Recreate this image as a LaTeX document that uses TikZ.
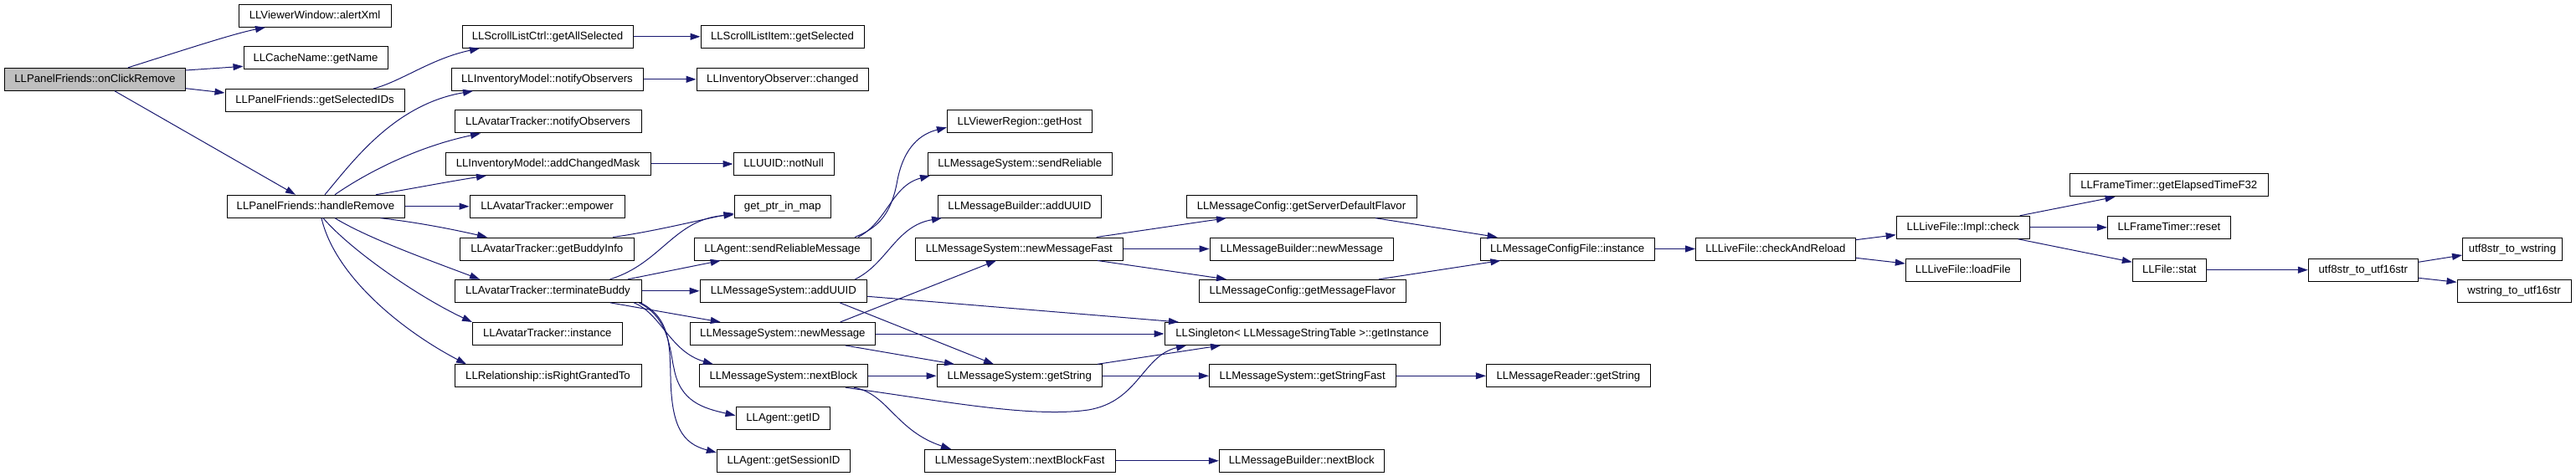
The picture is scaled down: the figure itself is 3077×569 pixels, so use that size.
\documentclass[tikz,border=0pt]{standalone}
\usepackage{fontspec}
\setmainfont{Liberation Sans}
\usetikzlibrary{arrows.meta}
\definecolor{edgeblue}{HTML}{191970}
\definecolor{rootgray}{HTML}{BFBFBF}
\begin{document}
\begin{tikzpicture}[x=1pt,y=-1pt,
  fn/.style={draw=black, line width=1pt, inner sep=0pt, minimum height=27pt,
    text height=9.5pt, text depth=1.8pt, fill=white,
    font=\fontsize{13.2}{15}\selectfont},
  call/.style={draw=edgeblue, line width=1pt, -{Triangle[length=12pt,width=8pt]}}
]
\useasboundingbox[fill=white] (0,0) rectangle (3077,569);
% column 1
\node[fn, fill=rootgray, minimum width=216pt] (oc) at (113.5,94.8) {LLPanelFriends::onClickRemove};
% column 2
\node[fn, minimum width=182pt] (ax) at (376,18.8) {LLViewerWindow::alertXml};
\node[fn, minimum width=172pt] (gn) at (377,69.5) {LLCacheName::getName};
\node[fn, minimum width=214pt] (gsid) at (376,120) {LLPanelFriends::getSelectedIDs};
\node[fn, minimum width=212pt] (hr) at (377,246.7) {LLPanelFriends::handleRemove};
% column 3
\node[fn, minimum width=204pt] (gas) at (654,43.8) {LLScrollListCtrl::getAllSelected};
\node[fn, minimum width=229pt] (imn) at (653.5,94.8) {LLInventoryModel::notifyObservers};
\node[fn, minimum width=223pt] (atn) at (654.5,145.5) {LLAvatarTracker::notifyObservers};
\node[fn, minimum width=245pt] (acm) at (654.5,196) {LLInventoryModel::addChangedMask};
\node[fn, minimum width=185pt] (emp) at (653.5,246.7) {LLAvatarTracker::empower};
\node[fn, minimum width=208.5pt] (gbi) at (653.3,297.5) {LLAvatarTracker::getBuddyInfo};
\node[fn, minimum width=223pt] (tb) at (654.5,347.8) {LLAvatarTracker::terminateBuddy};
\node[fn, minimum width=179.6pt] (ati) at (653.8,399) {LLAvatarTracker::instance};
\node[fn, minimum width=223pt] (irg) at (654.5,449.3) {LLRelationship::isRightGrantedTo};
% column 4
\node[fn, minimum width=195pt] (sli) at (934.5,43.8) {LLScrollListItem::getSelected};
\node[fn, minimum width=205.5pt] (ioc) at (934.8,94.8) {LLInventoryObserver::changed};
\node[fn, minimum width=120pt] (nn) at (936,196) {LLUUID::notNull};
\node[fn, minimum width=115.5pt] (gpm) at (934.8,246.7) {get\_ptr\_in\_map};
\node[fn, minimum width=211pt] (asrm) at (934.5,297.5) {LLAgent::sendReliableMessage};
\node[fn, minimum width=199.7pt] (msau) at (935.9,347.8) {LLMessageSystem::addUUID};
\node[fn, minimum width=221.7pt] (nm) at (934.9,399) {LLMessageSystem::newMessage};
\node[fn, minimum width=201.8pt] (nb) at (935.9,449.3) {LLMessageSystem::nextBlock};
\node[fn, minimum width=112.8pt] (gid) at (935.4,500) {LLAgent::getID};
\node[fn, minimum width=159.3pt] (gsess) at (936,550.8) {LLAgent::getSessionID};
% column 5
\node[fn, minimum width=173pt] (gh) at (1217.9,145.5) {LLViewerRegion::getHost};
\node[fn, minimum width=220pt] (sr) at (1218.2,196) {LLMessageSystem::sendReliable};
\node[fn, minimum width=195pt] (mbau) at (1217.9,246.7) {LLMessageBuilder::addUUID};
\node[fn, minimum width=248.2pt] (nmf) at (1217.3,297.5) {LLMessageSystem::newMessageFast};
\node[fn, minimum width=197.4pt] (gstr) at (1217.7,449.3) {LLMessageSystem::getString};
\node[fn, minimum width=227.7pt] (nbf) at (1218.2,550.8) {LLMessageSystem::nextBlockFast};
% column 6
\node[fn, minimum width=275pt] (gsdf) at (1554.5,246.7) {LLMessageConfig::getServerDefaultFlavor};
\node[fn, minimum width=219.3pt] (mbnm) at (1554.7,297.5) {LLMessageBuilder::newMessage};
\node[fn, minimum width=247.5pt] (gmf) at (1555.8,347.8) {LLMessageConfig::getMessageFlavor};
\node[fn, minimum width=329pt] (gi) at (1555.5,399) {LLSingleton< LLMessageStringTable >::getInstance};
\node[fn, minimum width=222.6pt] (gsf) at (1555.7,449.3) {LLMessageSystem::getStringFast};
\node[fn, minimum width=197pt] (mbnb) at (1554.8,550.8) {LLMessageBuilder::nextBlock};
% column 7+
\node[fn, minimum width=207.7pt] (mcfi) at (1872.2,297.5) {LLMessageConfigFile::instance};
\node[fn, minimum width=196pt] (mrgs) at (1873.4,449.3) {LLMessageReader::getString};
\node[fn, minimum width=190.8pt] (car) at (2120.9,297.5) {LLLiveFile::checkAndReload};
\node[fn, minimum width=159.2pt] (chk) at (2344.8,271.8) {LLLiveFile::Impl::check};
\node[fn, minimum width=137pt] (lf) at (2344.8,322.7) {LLLiveFile::loadFile};
\node[fn, minimum width=236.9pt] (get32) at (2590.8,221.3) {LLFrameTimer::getElapsedTimeF32};
\node[fn, minimum width=147pt] (rst) at (2590.9,271.8) {LLFrameTimer::reset};
\node[fn, minimum width=88pt] (st) at (2591.3,322.7) {LLFile::stat};
\node[fn, minimum width=131pt] (u16) at (2822.8,322.7) {utf8str\_to\_utf16str};
\node[fn, minimum width=119pt] (u8w) at (3001,297.5) {utf8str\_to\_wstring};
\node[fn, minimum width=136pt] (ws16) at (3003,347.8) {wstring\_to\_utf16str};

% edges from root
\draw[call] (153,0 |- oc.north) .. controls (225,58) and (280,40) .. (317,0 |- ax.south);
\draw[call] (oc.east |- 0,84) -- (gn.west |- 0,79.3);
\draw[call] (oc.east |- 0,105.7) -- (gsid.west |- 0,111);
\draw[call] (137,0 |- oc.south) -- (353,0 |- hr.north);
\draw[call] (446,0 |- gsid.north) .. controls (480,97) and (515,70) .. (573,0 |- gas.south);
\draw[call] (gas.east) -- (sli.west);
\draw[call] (imn.east) -- (ioc.west);
\draw[call] (acm.east) -- (nn.west);
% edges from handleRemove
\draw[call] (388,0 |- hr.north) .. controls (420,195) and (470,125) .. (565,0 |- imn.south);
\draw[call] (400,0 |- hr.north) .. controls (440,205) and (500,175) .. (574,0 |- atn.south);
\draw[call] (449,0 |- hr.north) .. controls (490,226) and (530,218) .. (581,0 |- acm.south);
\draw[call] (hr.east) -- (emp.west);
\draw[call] (454.5,0 |- hr.south) .. controls (500,266) and (540,274) .. (582,0 |- gbi.north);
\draw[call] (400,0 |- hr.south) .. controls (440,285) and (510,310) .. (573,0 |- tb.north);
\draw[call] (386,0 |- hr.south) .. controls (420,300) and (500,355) .. (564,0 |- ati.north);
\draw[call] (384,0 |- hr.south) .. controls (400,330) and (480,395) .. (557,0 |- irg.north);
% getBuddyInfo / terminateBuddy
\draw[call] (732,0 |- gbi.north) .. controls (780,277) and (840,262) .. (gpm.west |- 0,255);
\draw[call] (728.6,0 |- tb.north) .. controls (790,315) and (805,262) .. (gpm.west |- 0,256.7);
\draw[call] (750,0 |- tb.north) -- (860.7,0 |- asrm.south);
\draw[call] (tb.east) -- (msau.west);
\draw[call] (728.6,0 |- tb.south) -- (860.7,0 |- nm.north);
\draw[call] (757,0 |- tb.south) .. controls (790,375) and (800,420) .. (851.8,0 |- nb.north);
\draw[call] (763,0 |- tb.south) .. controls (800,380) and (800,420) .. (805,440) .. controls (812,480) and (840,488) .. (gid.west |- 0,496.7);
\draw[call] (765,0 |- tb.south) .. controls (800,380) and (800,410) .. (801,450) .. controls (802,510) and (815,530) .. (gsess.west |- 0,541);
% column 4 -> 5
\draw[call] (1021,0 |- asrm.north) .. controls (1050,272) and (1065,255) .. (1072,215) .. controls (1080,175) and (1100,160) .. (gh.west |- 0,152.3);
\draw[call] (1025,0 |- asrm.north) .. controls (1060,265) and (1065,222) .. (1111,0 |- sr.south);
\draw[call] (1021.4,0 |- msau.north) .. controls (1060,315) and (1070,270) .. (1125,0 |- mbau.south);
\draw[call] (msau.east |- 0,354.3) -- (1408,0 |- gi.north);
\draw[call] (1003,0 |- msau.south) -- (1187,0 |- gstr.north);
\draw[call] (1003.6,0 |- nm.north) -- (1190,0 |- nmf.south);
\draw[call] (nm.east) -- (gi.west);
\draw[call] (1010,0 |- nm.south) -- (1140,0 |- gstr.north);
\draw[call] (nb.east) -- (gstr.west);
\draw[call] (1010,0 |- nb.south) .. controls (1120,478) and (1230,500) .. (1300,490) .. controls (1360,480) and (1365,425) .. (1417,0 |- gi.south);
\draw[call] (1020,0 |- nb.south) .. controls (1060,470) and (1070,515) .. (1136,0 |- nbf.north);
% column 5 -> 6
\draw[call] (1311,0 |- gstr.north) -- (1458,0 |- gi.south);
\draw[call] (gstr.east) -- (gsf.west);
\draw[call] (gsf.east) -- (mrgs.west);
\draw[call] (nbf.east) -- (mbnb.west);
\draw[call] (1309.6,0 |- nmf.north) -- (1465,0 |- gsdf.south);
\draw[call] (nmf.east) -- (mbnm.west);
\draw[call] (1311,0 |- nmf.south) -- (1465,0 |- gmf.north);
% column 6 ->
\draw[call] (1643,0 |- gsdf.south) -- (1788.6,0 |- mcfi.north);
\draw[call] (1647,0 |- gmf.north) -- (1792.4,0 |- mcfi.south);
\draw[call] (mcfi.east) -- (car.west);
\draw[call] (car.east |- 0,286.7) -- (chk.west |- 0,280.7);
\draw[call] (car.east |- 0,308.3) -- (lf.west |- 0,315);
\draw[call] (2412.6,0 |- chk.north) -- (2526.6,0 |- get32.south);
\draw[call] (chk.east) -- (rst.west);
\draw[call] (2410.7,0 |- chk.south) -- (st.west |- 0,313.3);
\draw[call] (st.east) -- (u16.west);
\draw[call] (u16.east |- 0,313.3) -- (u8w.west |- 0,305);
\draw[call] (u16.east |- 0,332.3) -- (ws16.west |- 0,337.3);
\end{tikzpicture}
\end{document}
